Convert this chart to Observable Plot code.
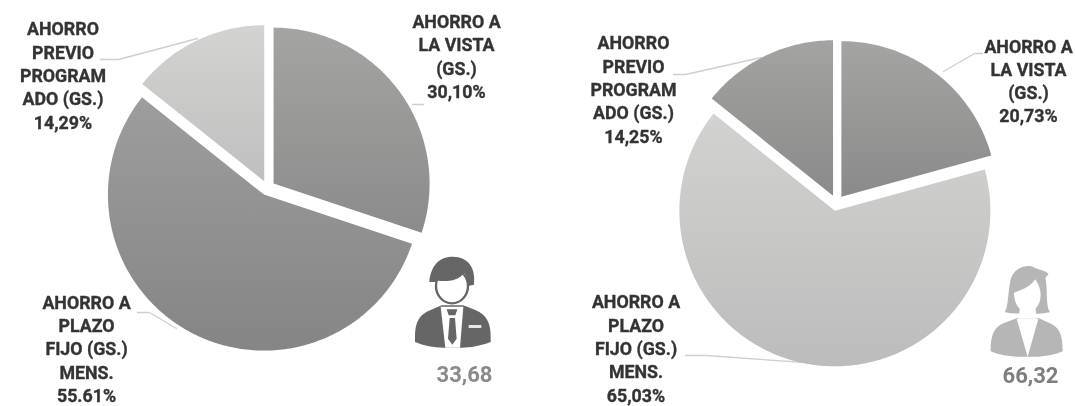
<!DOCTYPE html>
<html lang="es">
<head>
<meta charset="utf-8">
<script src="https://cdn.jsdelivr.net/npm/d3@7"></script>
<script src="https://cdn.jsdelivr.net/npm/@observablehq/plot@0.6"></script>
<style>
  html, body { margin: 0; padding: 0; background: #fff; }
  #chart svg { display: block; filter: blur(0.7px); }
</style>
</head>
<body>
<div id="chart"></div>
<script>
// ---- values ----
const categories = ["vista", "plazo", "previo"];
const menValues = [30.10, 55.61, 14.29];
const womenValues = [20.73, 65.03, 14.25];
const menLabels = ["AHORRO A\nLA VISTA\n(GS.)\n30,10%", "AHORRO A\nPLAZO\nFIJO (GS.)\nMENS.\n55.61%", "AHORRO\nPREVIO\nPROGRAM\nADO (GS.)\n14,29%"];
const womenLabels = ["AHORRO A\nLA VISTA\n(GS.)\n20,73%", "AHORRO A\nPLAZO\nFIJO (GS.)\nMENS.\n65,03%", "AHORRO\nPREVIO\nPROGRAM\nADO (GS.)\n14,25%"];
const totals = ["33,68", "66,32"];

// ---- layout and style ----
const pies = [
  {id: "m", values: menValues, labels: menLabels, cx: 267, cy: 187.5, r: 156, explode: 7.5,
   ramps: [["#a4a4a2", "#8b8b8b"], ["#9d9d9d", "#858585"], ["#d3d3d1", "#bfbfbf"]],
   labelPos: [[456, 55], [86, 347.5], [62.5, 74]],
   leaders: [[[412, 104], [423, 104]], [[137, 312], [149, 312], [176, 328]], [[100, 59], [118, 59], [197, 38]]],
   total: [464, 374], totalColor: "#8a8a8a"},
  {id: "w", values: womenValues, labels: womenLabels, cx: 836, cy: 202.5, r: 155.5, explode: 8,
   ramps: [["#a4a4a2", "#8a8a8a"], ["#d2d2d0", "#bcbcbc"], ["#a3a3a1", "#8a8a8a"]],
   labelPos: [[1028, 79.5], [635.5, 347], [633, 88]],
   leaders: [[[943, 71], [974, 53], [982, 53]], [[685, 355], [706, 355], [803, 362]], [[673, 74], [685, 74], [761, 57]]],
   total: [1030, 375], totalColor: "#7e7e7e"}
];

// slices as polygons in the plot's x/y space
const slicePts = [], leaderPts = [], labelRows = [], totalRows = [];
const pieGen = d3.pie().sort(null).startAngle(0).endAngle(2 * Math.PI);
pies.forEach((p, pi) => {
  pieGen(p.values).forEach((a, i) => {
    const mid = (a.startAngle + a.endAngle) / 2;
    const ox = p.cx + p.explode * Math.sin(mid), oy = p.cy - p.explode * Math.cos(mid);
    const key = p.id + i, fill = `url(#grad-${key})`;
    slicePts.push({key, fill, x: ox, y: oy});
    const n = Math.ceil((a.endAngle - a.startAngle) * 60);
    for (let k = 0; k <= n; ++k) {
      const t = a.startAngle + (a.endAngle - a.startAngle) * k / n;
      slicePts.push({key, fill, x: ox + p.r * Math.sin(t), y: oy - p.r * Math.cos(t)});
    }
    p.leaders[i].forEach(([x, y]) => leaderPts.push({key, x, y}));
    labelRows.push({text: p.labels[i], x: p.labelPos[i][0], y: p.labelPos[i][1]});
  });
  totalRows.push({text: totals[pi], x: p.total[0], y: p.total[1], color: p.totalColor});
});

const NS = "http://www.w3.org/2000/svg";
function el(name, attrs, parent) {
  const e = document.createElementNS(NS, name);
  for (const k in attrs) e.setAttribute(k, attrs[k]);
  if (parent) parent.appendChild(e);
  return e;
}

function gradients() {
  const defs = el("defs", {});
  pies.forEach(p => p.ramps.forEach((r, i) => {
    const g = el("linearGradient", {id: `grad-${p.id}${i}`, x1: 0, y1: 0, x2: 0, y2: 1}, defs);
    el("stop", {offset: "0%", "stop-color": r[0]}, g);
    el("stop", {offset: "100%", "stop-color": r[1]}, g);
  }));
  return defs;
}

function manIcon() {
  const g = el("g", {transform: "translate(400,240) scale(0.3333)"});
  const dark = "#666666";
  el("path", {fill: dark, d: "M45,292 C45,245 58,224 92,210 L125,196 L190,196 L226,210 C258,224 272,245 272,292 L272,306 C240,318 212,323 185,323 L130,323 C100,323 72,318 45,306 Z"}, g);
  el("path", {fill: "#fff", d: "M122,200 L190,200 L180,323 L136,323 Z"}, g);
  el("path", {fill: dark, d: "M140,208 L172,208 L166,226 L146,226 Z M149,234 L165,234 L170,296 L157,314 L144,296 Z"}, g);
  el("rect", {fill: "#e8e8e8", x: 206, y: 255, width: 38, height: 9}, g);
  el("ellipse", {fill: "#fff", stroke: dark, "stroke-width": 7, cx: 156, cy: 138, rx: 48, ry: 52}, g);
  el("path", {fill: dark, d: "M88,126 C92,80 115,50 158,50 C205,50 228,84 222,134 L204,138 C206,122 202,110 192,98 C178,122 140,126 114,122 L106,126 Z"}, g);
  return g;
}

function womanIcon() {
  const g = el("g", {transform: "translate(970,250) scale(0.3333)"});
  const light = "#b6b6b6";
  el("path", {fill: light, d: "M62,300 C62,255 72,232 100,220 L142,204 L205,204 L240,220 C268,232 278,255 278,300 L278,304 C255,314 230,318 205,320 L140,320 C110,318 85,314 62,304 Z"}, g);
  el("path", {fill: light, d: "M104,186 C116,176 114,110 124,82 C136,52 172,42 192,52 C205,60 222,60 236,72 L226,84 C234,112 226,168 240,186 C220,194 130,194 104,186 Z"}, g);
  el("path", {fill: "#fff", d: "M140,206 L205,206 L173,320 Z"}, g);
  el("path", {fill: "#fff", d: "M150,170 L196,170 L200,206 L146,206 Z"}, g);
  el("path", {fill: "#fff", d: "M132,128 C150,122 180,112 196,88 C206,104 212,118 212,134 C212,165 194,186 172,186 C150,186 132,162 132,128 Z"}, g);
  return g;
}

const chart = Plot.plot({
  width: 1075,
  height: 406,
  margin: 0,
  x: {domain: [0, 1075], range: [0, 1075], axis: null},
  y: {domain: [0, 406], range: [0, 406], axis: null},
  color: {type: "identity"},
  style: {background: "#fff", overflow: "hidden"},
  marks: [
    gradients,
    Plot.line(leaderPts, {x: "x", y: "y", z: "key", stroke: "#cfcfcf", strokeWidth: 1.3}),
    Plot.line(slicePts, {x: "x", y: "y", z: "key", fill: "fill", stroke: "none"}),
    Plot.text(labelRows, {
      x: "x", y: "y", text: "text", textAnchor: "middle", lineAnchor: "middle",
      lineHeight: 1.31, fontFamily: "Roboto", fontWeight: 700, fontSize: 17.8,
      fill: "#333333", stroke: "#333333", strokeWidth: 0.35
    }),
    manIcon,
    womanIcon,
    Plot.text(totalRows, {
      x: "x", y: "y", text: "text", textAnchor: "middle", lineAnchor: "middle",
      fontFamily: "Roboto", fontWeight: 700, fontSize: 22, fill: "color"
    })
  ]
});
document.getElementById("chart").appendChild(chart);
</script>
</body>
</html>
